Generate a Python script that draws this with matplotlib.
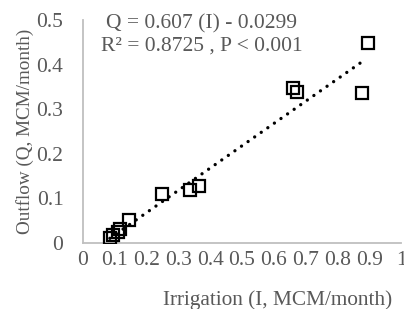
import matplotlib.pyplot as plt
import numpy as np

# irrigation vs outflow (MCM/month)
irrigation = [0.085, 0.094, 0.11, 0.116, 0.145, 0.248, 0.336, 0.365, 0.66, 0.673, 0.877, 0.896]
outflow = [0.011, 0.018, 0.025, 0.031, 0.052, 0.11, 0.119, 0.128, 0.347, 0.339, 0.336, 0.448]
# dotted trend line as drawn in the picture
trend_slope, trend_intercept = 0.50, -0.032
trend_range = [0.085, 0.885]

grey = '#595959'
plt.rcParams['font.family'] = ['Liberation Serif', 'DejaVu Serif']

fig = plt.figure(figsize=(4.04, 3.09), dpi=100)
ax = fig.add_axes([0.205, 0.2136, 0.788, 0.7214])

xl = np.array(trend_range)
ax.plot(xl, trend_slope * xl + trend_intercept, color='black', linestyle=(0, (0.01, 2.4)),
        linewidth=2.4, dash_capstyle='round', zorder=2)
ax.plot(irrigation, outflow, linestyle='none', marker='s', markersize=8.5,
        markerfacecolor='none', markeredgecolor='black', markeredgewidth=1.6, zorder=3)

ax.set_xlim(0, 1)
ax.set_ylim(0, 0.5)
ax.set_xticks(np.arange(0, 1.01, 0.1))
ax.set_xticklabels(['0', '0.1', '0.2', '0.3', '0.4', '0.5', '0.6', '0.7', '0.8', '0.9', '1'])
ax.set_yticks(np.arange(0, 0.51, 0.1))
ax.set_yticklabels(['0', '0.1', '0.2', '0.3', '0.4', '0.5'])
ax.tick_params(length=0, labelsize=15.5, colors=grey)
ax.tick_params(axis='x', pad=6)
ax.tick_params(axis='y', pad=14)
for s in ['top', 'right']:
    ax.spines[s].set_visible(False)
for s in ['left', 'bottom']:
    ax.spines[s].set_color('#bfbfbf')
    ax.spines[s].set_linewidth(1.3)

ax.set_xlabel('Irrigation (I, MCM/month)', fontsize=15.3, color=grey, va='top')
ax.xaxis.set_label_coords(0.612, -0.21)
ax.set_ylabel('Outflow (Q, MCM/month)', fontsize=13.8, color=grey)
ax.yaxis.set_label_coords(-0.153, 0.502)

fig.text(0.5, 0.922, 'Q = 0.607 (I) - 0.0299', ha='center', va='center',
         fontsize=15.5, color=grey)
fig.text(0.5, 0.851, 'R² = 0.8725 , P < 0.001', ha='center', va='center',
         fontsize=15.5, color=grey)

fig.savefig('out.png', dpi=100)
